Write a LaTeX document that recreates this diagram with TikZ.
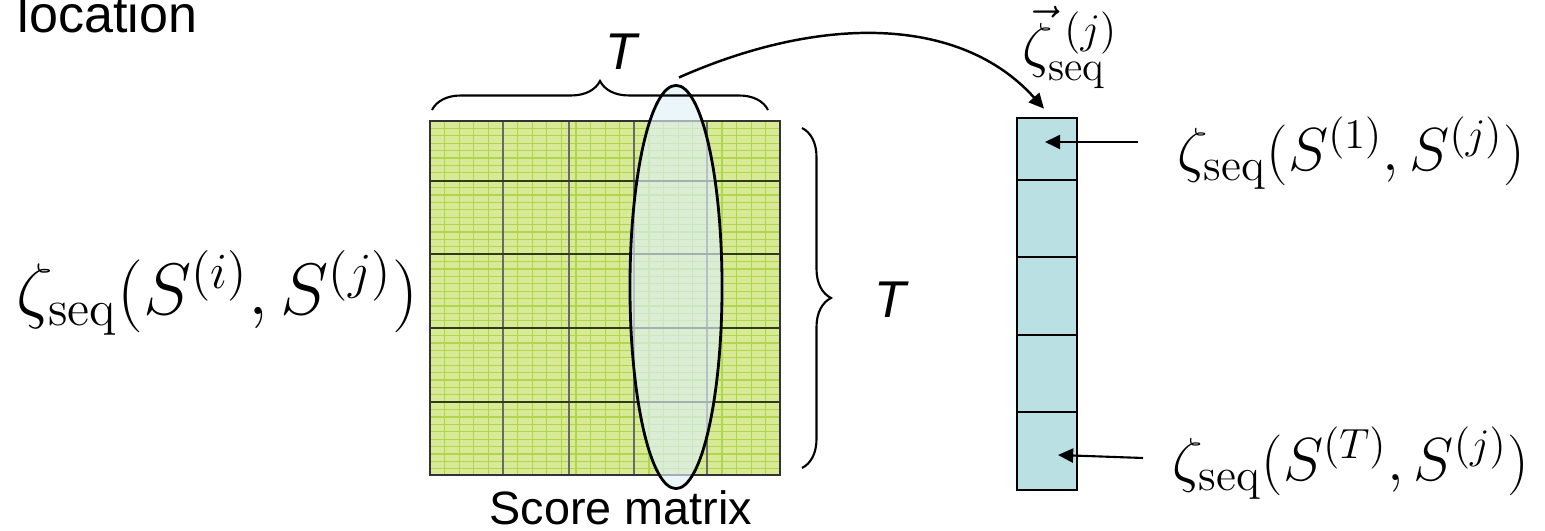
\documentclass[tikz,border=0pt]{standalone}
\usepackage{fontspec}
\newfontfamily\arialf{Liberation Sans}
\usetikzlibrary{arrows.meta,decorations.pathreplacing,shapes.geometric}
\definecolor{matfill}{RGB}{216,234,150}
\definecolor{fineline}{RGB}{176,214,80}
\definecolor{colgray}{RGB}{105,105,105}
\definecolor{rowdark}{RGB}{45,62,22}
\definecolor{vecfill}{RGB}{187,224,227}
\definecolor{ellfill}{RGB}{222,241,248}
\begin{document}
\begin{tikzpicture}[x=0.01cm,y=-0.01cm,
    lab/.style={font=\arialf\fontsize{14.8}{17}\selectfont,inner sep=0pt},
    tlab/.style={font=\arialf\itshape\fontsize{14.7}{17}\selectfont,inner sep=0pt},
    bigmath/.style={font=\fontsize{20.5}{24}\selectfont,inner sep=0pt},
    midmath/.style={font=\fontsize{18.6}{22}\selectfont,inner sep=0pt},
    tip/.style={-{Triangle[length=4.3pt,width=4pt]},line width=0.6pt},
    curly/.style={decorate,decoration={brace,amplitude=0.29cm},line width=0.6pt}]
  \useasboundingbox (0,0) rectangle (1545,531);
  \node[lab,anchor=base west] (loc) at (17,33) {location};
  % score matrix
  \fill[matfill] (430,121) rectangle (780,475);
  \foreach \k in {1,...,23}
    \draw[fineline,line width=0.3pt] (430+\k*14.6,121) -- (430+\k*14.6,475);
  \foreach \k in {1,...,47}
    \draw[fineline,line width=0.3pt] (430,121+\k*7.4) -- (780,121+\k*7.4);
  \foreach \x in {503,569,634,707}
    \draw[colgray,line width=0.6pt] (\x,121) -- (\x,475);
  \foreach \y in {181,254,328,402}
    \draw[rowdark,line width=0.7pt] (430,\y) -- (780,\y);
  \draw[black!80,line width=0.8pt] (430,121) rectangle (780,475);
  \node[draw,ellipse,fill=ellfill,fill opacity=0.65,line width=0.8pt,
    minimum width=0.92cm,minimum height=4.03cm,inner sep=0pt] (ell) at (676,287) {};
  \node[lab,font=\arialf\fontsize{13.3}{16}\selectfont,anchor=base] (score) at (621,525) {Score matrix};
  \draw[curly] (432,110) -- (768,110);
  \node[tlab,anchor=base] (ttop) at (621,70) {T};
  \draw[curly] (802,128) -- (802,468);
  \node[tlab,anchor=base] (tright) at (890,318) {T};
  \node[bigmath,anchor=base east] (zij) at (419,315)
    {$\zeta_{\mathrm{seq}}(S^{(i)},S^{(j)})$};
  % column vector
  \node[draw,fill=vecfill,line width=0.7pt,minimum width=0.6cm,minimum height=3.72cm,
    inner sep=0pt] (vec) at (1047,304) {};
  \foreach \y in {180,257,335,412}
    \draw[line width=0.6pt] (1017,\y) -- (1077,\y);
  \node[font=\fontsize{17}{19}\selectfont,inner sep=0pt] (zvec) at (1070,47)
    {$\vec{\zeta}^{\;(j)}_{\mathrm{seq}}$};
  \draw[tip,line width=0.7pt] ([shift={(0.03cm,0.065cm)}]ell.north)
    .. controls (820,15) and (960,15) .. ([shift={(-0.03cm,0.08cm)}]vec.north);
  \node[midmath,anchor=base west] (z1) at (1177,171)
    {$\zeta_{\mathrm{seq}}(S^{(1)},S^{(j)})$};
  \node[midmath,anchor=base west] (zT) at (1172,481)
    {$\zeta_{\mathrm{seq}}(S^{(T)},S^{(j)})$};
  \coordinate (a1) at (1138,142);
  \coordinate (b1) at (1045,142);
  \coordinate (aT) at (1143,458);
  \coordinate (bT) at (1058,455);
  \draw[tip] (a1) -- (b1);
  \draw[tip] (aT) -- (bT);
\end{tikzpicture}
\end{document}
